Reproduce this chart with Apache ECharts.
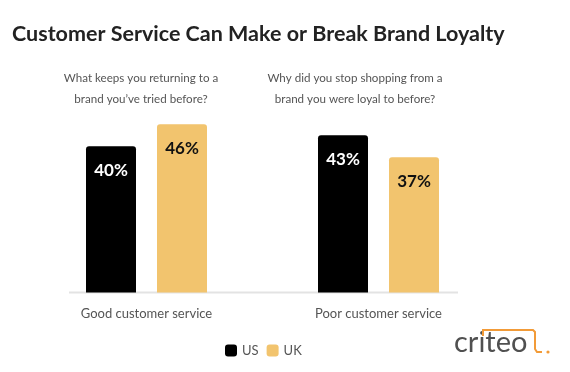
<!DOCTYPE html>
<html>
<head>
<meta charset="utf-8">
<script src="https://cdn.jsdelivr.net/npm/echarts@6/dist/echarts.min.js"></script>
<style>html,body{margin:0;padding:0;background:#fff}#c{width:570px;height:372px}</style>
</head>
<body>
<div id="c"></div>
<script>
const categories = ['Good customer service', 'Poor customer service'];
const seriesNames = ['US', 'UK'];
const usValues = [40, 43];
const ukValues = [46, 37];
const titleText = 'Customer Service Can Make or Break Brand Loyalty';
const questions = ['What keeps you returning to a\nbrand you\u2019ve tried before?', 'Why did you stop shopping from a\nbrand you were loyal to before?'];

const FONT = 'Lato, "Open Sans", sans-serif';
const chart = echarts.init(document.getElementById('c'));
chart.setOption({
  backgroundColor: '#ffffff',
  animation: false,
  title: [
    { text: titleText, left: 7, top: 18, textStyle: { fontFamily: FONT, fontWeight: 'bold', fontSize: 21.5, color: '#222222' } },
    { text: questions[0], left: 136, top: 63, textAlign: 'center', textStyle: { fontFamily: FONT, fontWeight: 'normal', fontSize: 11.6, lineHeight: 21, color: '#555555' } },
    { text: questions[1], left: 350, top: 63, textAlign: 'center', textStyle: { fontFamily: FONT, fontWeight: 'normal', fontSize: 11.6, lineHeight: 21, color: '#555555' } }
  ],
  legend: {
    left: 220, top: 339, itemWidth: 12, itemHeight: 12, itemGap: 8, icon: 'roundRect',
    data: seriesNames,
    textStyle: { fontFamily: FONT, fontSize: 13, color: '#555555' }
  },
  grid: { left: 30.5, right: 75.5, top: 73, bottom: 79.5 },
  xAxis: {
    type: 'category', data: categories,
    axisLine: { show: false }, axisTick: { show: false },
    axisLabel: { margin: 15, fontFamily: FONT, fontSize: 13, color: '#555555' }
  },
  yAxis: { type: 'value', min: 0, max: 60, show: false, splitLine: { show: false } },
  series: [
    {
      name: seriesNames[0], type: 'bar', data: usValues, barWidth: 50, barGap: '42%',
      itemStyle: { color: '#000000', borderRadius: [3, 3, 0, 0] },
      label: { show: true, position: 'insideTop', distance: 16, formatter: '{c}%', fontFamily: FONT, fontWeight: 'bold', fontSize: 17, color: '#ffffff' }
    },
    {
      name: seriesNames[1], type: 'bar', data: ukValues, barWidth: 50,
      itemStyle: { color: '#F2C46E', borderRadius: [3, 3, 0, 0] },
      label: { show: true, position: 'insideTop', distance: 16, formatter: '{c}%', fontFamily: FONT, fontWeight: 'bold', fontSize: 17, color: '#111111' }
    }
  ],
  graphic: [
    { type: 'line', shape: { x1: 69, y1: 292.5, x2: 458, y2: 292.5 }, style: { stroke: '#e3e3e3', lineWidth: 2 }, z: 0 },
    { type: 'text', left: 454, top: 328, style: { text: 'criteo', fontFamily: FONT, fontSize: 29, fontWeight: 'normal', fill: '#505050' } },
    { type: 'polyline', shape: { points: [[483, 336], [483, 330], [533, 330], [535, 332], [535, 349], [537, 352], [542, 352]] }, style: { stroke: '#F29B38', lineWidth: 2, fill: null } },
    { type: 'circle', shape: { cx: 548, cy: 352, r: 1.6 }, style: { fill: '#F29B38' } }
  ]
});
</script>
</body>
</html>
